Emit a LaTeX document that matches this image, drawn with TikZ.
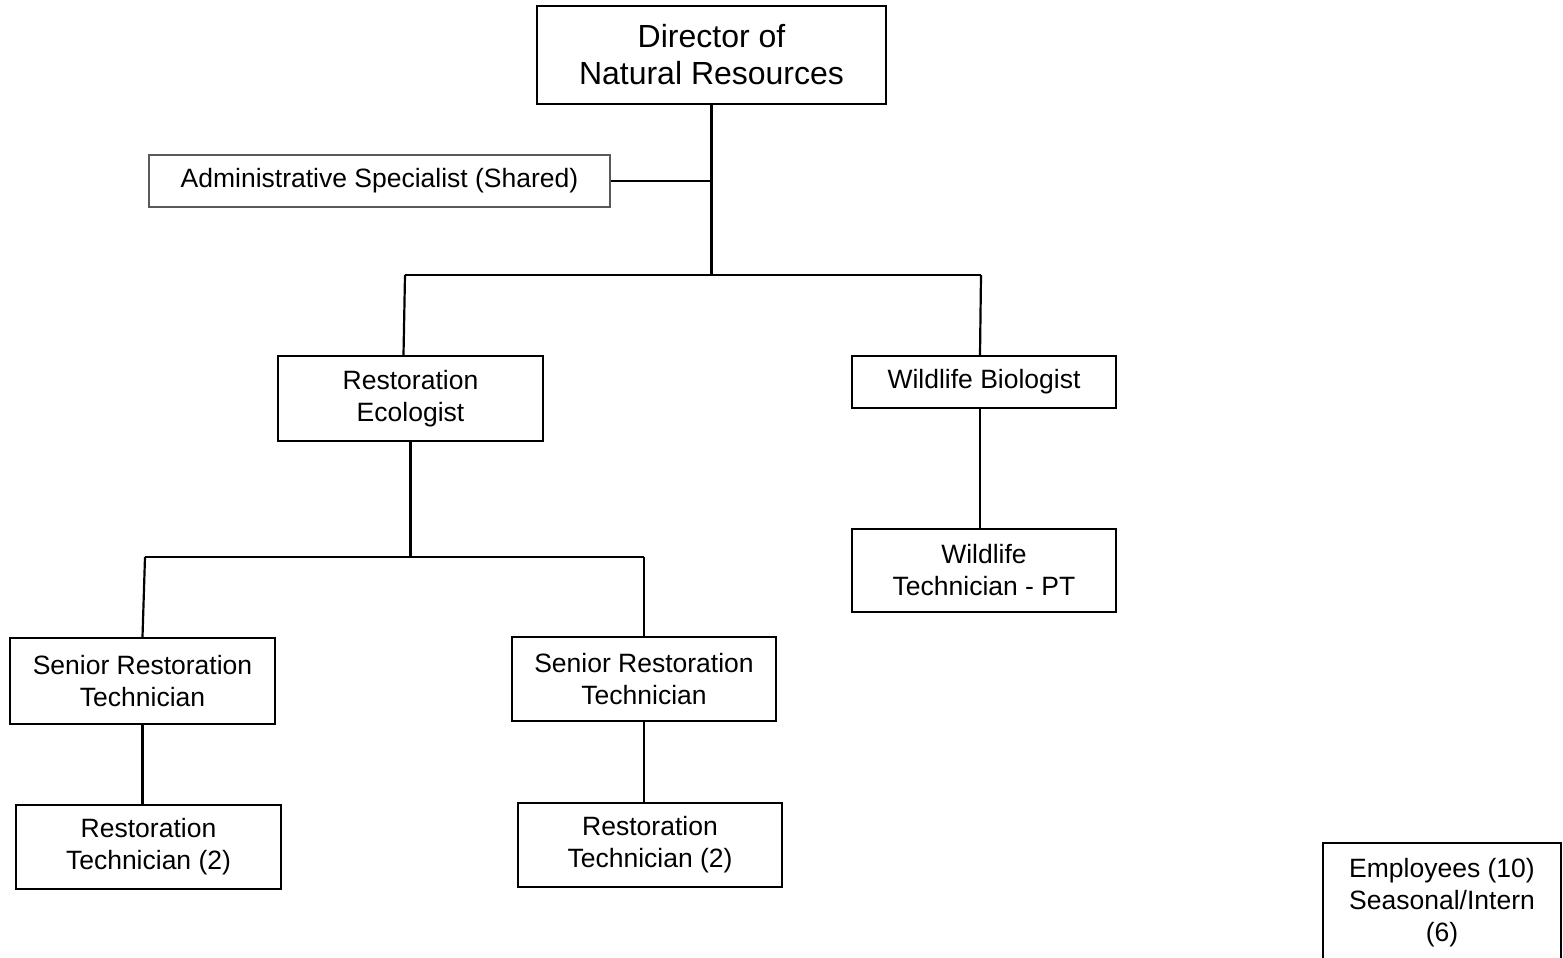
\documentclass[tikz,border=0pt]{standalone}
\usepackage{fontspec}
\setmainfont{Liberation Sans}
\begin{document}
\begin{tikzpicture}[x=1pt,y=-1pt,
  box/.style={draw, line width=2.2pt, inner sep=0pt, align=center,
    font=\fontsize{26.5}{32}\selectfont},
  link/.style={line width=2.2pt}]
\useasboundingbox (0,0) rectangle (1563,958);
\clip (0,0) rectangle (1563,958);

\coordinate (busA) at (405,275);
\coordinate (busB) at (981,275);
\coordinate (busC) at (145,557);
\coordinate (busD) at (644,557);

\node[box, minimum width=349pt, minimum height=98pt,
  font=\fontsize{32}{37}\selectfont] (dir) at (711.5,55) {Director of\\Natural Resources};
\node[box, draw=black!65, line width=1.2pt, minimum width=461pt, minimum height=52pt] (admin) at (379.5,181) {Administrative Specialist (Shared)};
\node[box, minimum width=265pt, minimum height=85pt] (re) at (410.5,398.5) {Restoration\\Ecologist};
\node[box, minimum width=264pt, minimum height=52pt] (wb) at (984,382) {Wildlife Biologist};
\node[box, minimum width=264pt, minimum height=83pt] (wt) at (984,570.5) {Wildlife\\Technician - PT};
\node[box, minimum width=265pt, minimum height=86pt] (sl) at (142.5,681) {Senior Restoration\\Technician};
\node[box, minimum width=264pt, minimum height=84pt] (sr) at (644,679) {Senior Restoration\\Technician};
\node[box, minimum width=265pt, minimum height=84pt] (tl) at (148.5,847) {Restoration\\Technician (2)};
\node[box, minimum width=264pt, minimum height=84pt] (tr) at (650,845) {Restoration\\Technician (2)};
\node[box, minimum width=238pt, minimum height=120pt] (emp) at (1442,903) {Employees (10)\\Seasonal/Intern\\(6)};

\draw[link] (dir.south) -- (dir.south |- busA);
\draw[link] (admin.east) -- (admin.east -| dir.south);
\draw[link] (busA) -- (busB);
\draw[link] (busA) -- ([xshift=-7pt]re.north);
\draw[link] (busB) -- ([xshift=-4pt]wb.north);
\draw[link] ([xshift=-4pt]wb.south) -- ([xshift=-4pt]wt.north);
\draw[link] (re.south) -- (re.south |- busC);
\draw[link] (busC) -- (busD);
\draw[link] (busC) -- (sl.north);
\draw[link] (busD) -- (sr.north);
\draw[link] (sl.south) -- (sl.south |- tl.north);
\draw[link] (sr.south) -- (sr.south |- tr.north);
\end{tikzpicture}
\end{document}
